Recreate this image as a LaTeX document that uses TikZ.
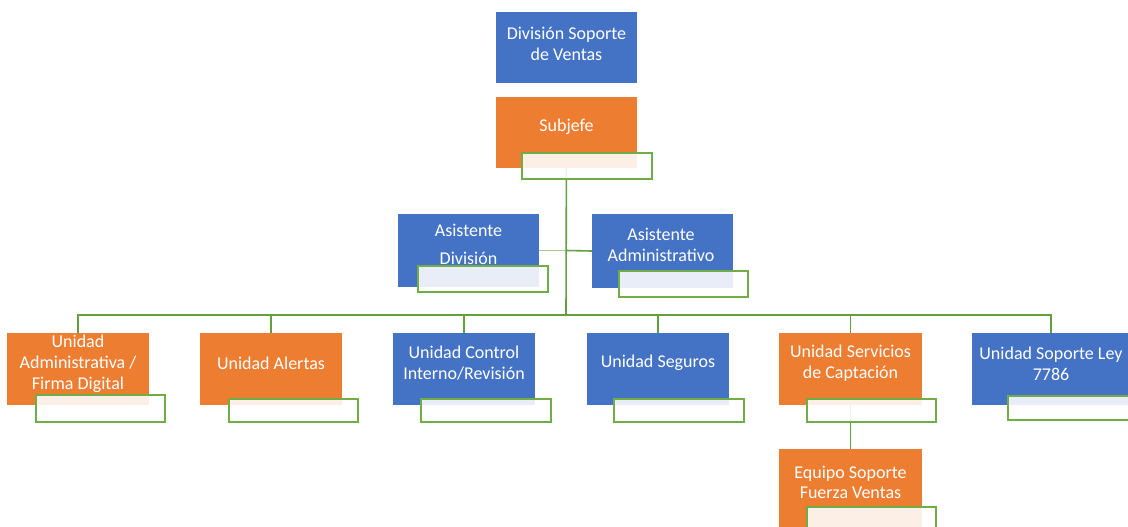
\documentclass[tikz,border=0pt]{standalone}
\usepackage{fontspec}
\setmainfont{Carlito}
\definecolor{obBlue}{HTML}{4472C4}
\definecolor{obOrange}{HTML}{ED7D31}
\definecolor{obGreen}{HTML}{70AD47}
\definecolor{obLine}{HTML}{62A03E}
\pgfdeclarelayer{connlayer}
\pgfsetlayers{connlayer,main}
\begin{document}
\begin{tikzpicture}[x=1pt,y=-1pt,
  boxbase/.style={rectangle, inner sep=0pt, outer sep=0pt, draw=none},
  bluebox/.style={boxbase, fill=obBlue},
  orangebox/.style={boxbase, fill=obOrange},
  greenbox/.style={rectangle, inner sep=0pt, outer sep=0pt, draw=obGreen, line width=1.4pt, fill=white, fill opacity=0.88},
  lbl/.style={text=white, font=\fontsize{18}{21}\selectfont, align=center, inner sep=0pt},
  conn/.style={draw=obLine, line width=1.6pt}
]
\useasboundingbox (0,0) rectangle (1128,527);

% boxes
\node[bluebox, minimum width=141pt, minimum height=71pt] (div) at (566.5,47.5) {};
\node[orangebox, minimum width=141pt, minimum height=71pt] (sub) at (566.5,132.5) {};
\node[bluebox, minimum width=141pt, minimum height=73pt] (ad) at (468.5,250.5) {};
\node[bluebox, minimum width=141pt, minimum height=74pt] (aa) at (662.5,251) {};
\node[orangebox, minimum width=142pt, minimum height=72pt] (u1) at (78,369) {};
\node[orangebox, minimum width=142pt, minimum height=72pt] (u2) at (271,369) {};
\node[bluebox, minimum width=142pt, minimum height=72pt] (u3) at (464,369) {};
\node[bluebox, minimum width=142pt, minimum height=72pt] (u4) at (658,369) {};
\node[orangebox, minimum width=143pt, minimum height=72pt] (u5) at (850.5,369) {};
\node[bluebox, minimum width=158pt, minimum height=72pt] (u6) at (1051,369) {};
\node[orangebox, minimum width=143pt, minimum height=91pt] (eq) at (850.5,494.5) {};

% connectors, behind the boxes
\coordinate (bus) at (566,315);
\coordinate (asj) at (566,250.5);
\begin{pgfonlayer}{connlayer}
\draw[conn] (sub.center) -- (bus);
\draw[conn, draw opacity=0.55] (ad.east) -- (asj);
\draw[conn] (asj) -- (aa.west);
\draw[conn] (bus) -| (u1.north);
\draw[conn] (bus) -| (u2.north);
\draw[conn] (bus) -| (u3.north);
\draw[conn] (bus) -| (u4.north);
\draw[conn] (bus) -| (u5.north);
\draw[conn] (bus) -| (u6.north);
\draw[conn] (u5.south) -- (eq.north);
\end{pgfonlayer}

% labels
\node[lbl] (tdiv) at (566.5,44) {División Soporte\\de Ventas};
\node[lbl] (tsub) at (566.5,127) {Subjefe};
\node[lbl, font=\fontsize{18}{28}\selectfont] (tad) at (468.5,244.5) {Asistente\\División};
\node[lbl] (taa) at (661,245) {Asistente\\Administrativo};
\node[lbl] (tu1) at (78,363.5) {Unidad\\Administrativa /\\Firma Digital};
\node[lbl] (tu2) at (271,363) {Unidad Alertas};
\node[lbl] (tu3) at (464,363.5) {Unidad Control\\Interno/Revisión};
\node[lbl] (tu4) at (658,363) {Unidad Seguros};
\node[lbl] (tu5) at (850.5,363.5) {Unidad Servicios\\de Captación};
\node[lbl] (tu6) at (1051,363.5) {Unidad Soporte Ley\\7786};
\node[lbl, font=\fontsize{18}{20}\selectfont] (teq) at (850.5,482) {Equipo Soporte\\Fuerza Ventas};

% green name boxes
\node[greenbox, minimum width=130pt, minimum height=26pt] (subg) at (587,166) {};
\node[greenbox, minimum width=130pt, minimum height=26pt] (adg) at (483,279) {};
\node[greenbox, minimum width=129pt, minimum height=26pt] (aag) at (683.5,284) {};
\node[greenbox, minimum width=129pt, minimum height=27pt] (u1g) at (100.5,408.5) {};
\node[greenbox, minimum width=129pt, minimum height=23pt] (u2g) at (293.5,410.5) {};
\node[greenbox, minimum width=130pt, minimum height=23pt] (u3g) at (486,410.5) {};
\node[greenbox, minimum width=130pt, minimum height=23pt] (u4g) at (679,410.5) {};
\node[greenbox, minimum width=129pt, minimum height=23pt] (u5g) at (871.5,410.5) {};
\node[greenbox, minimum width=132pt, minimum height=24pt] (u6g) at (1074,408) {};
\node[greenbox, minimum width=129pt, minimum height=33pt] (eqg) at (871.5,523.5) {};
\end{tikzpicture}
\end{document}
